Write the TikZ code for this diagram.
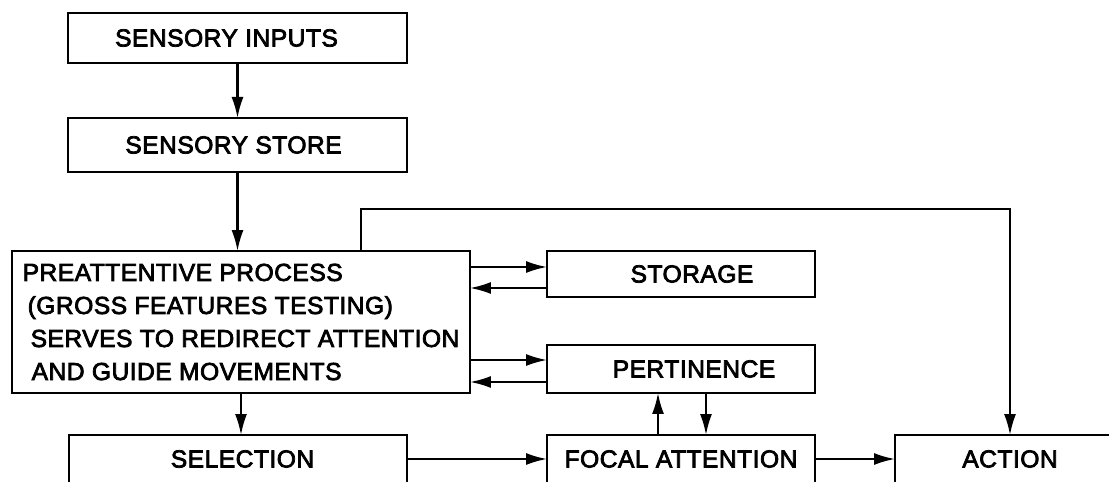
\documentclass[tikz,border=0pt]{standalone}
\usepackage{fontspec}
\setmainfont{Liberation Sans}[LetterSpace=2,FakeBold=3]
\usetikzlibrary{arrows.meta,positioning}
\tikzset{
block/.style={draw,line width=1.4pt,inner sep=0pt,outer sep=0pt,align=center,minimum height=.96cm,minimum width=5.36cm,font=\fontsize{14}{18.8}\selectfont},
arrow/.style={-{Latex[length=4.2mm,width=2.4mm]},line width=1.2pt}
}
\begin{document}
\begin{tikzpicture}[x=.02cm,y=.02cm]
\useasboundingbox (0,0) rectangle (1109,481);
\clip (0,0) rectangle (1109,481);
\node[block,minimum width=6.78cm,minimum height=1cm] (inputs) at (237.5,443) {SENSORY INPUTS\hspace*{.44cm}};
\node[block,minimum width=6.78cm,minimum height=1.08cm,below=1.1cm of inputs] (store) {SENSORY STORE\hspace*{.16cm}};
\node[block,minimum width=9.16cm,minimum height=2.84cm,align=left] (preatt) at (241,159) {PREATTENTIVE PROCESS\\\hspace*{.1cm}(GROSS FEATURES TESTING)\\\hspace*{.16cm}SERVES TO REDIRECT ATTENTION\\\hspace*{.18cm}AND GUIDE MOVEMENTS};
\node[block,minimum height=.92cm] (storage) at (681,207) {\hspace*{.44cm}STORAGE};
\node[block] (pertinence) at (681,112) {\hspace*{.52cm}PERTINENCE};
\node[block] (focal) at (681,22) {FOCAL ATTENTION};
\node[block,minimum width=6.76cm] (selection) at (238,22) {\hspace*{.18cm}SELECTION};
\node[block,minimum width=4.6cm] (action) at (1010,22) {ACTION};
\coordinate (st1) at ([yshift=.14cm]storage.west);
\coordinate (st2) at ([yshift=-.28cm]storage.west);
\coordinate (pe1) at ([yshift=.18cm]pertinence.west);
\coordinate (pe2) at ([yshift=-.26cm]pertinence.west);
\draw[arrow](inputs)--(store);
\draw[arrow](store.south)--(store.south|-preatt.north);
\draw[arrow](preatt.south)--(preatt.south|-selection.north);
\draw[arrow](st1-|preatt.east)--(st1);
\draw[arrow](st2)--(st2-|preatt.east);
\draw[arrow](pe1-|preatt.east)--(pe1);
\draw[arrow](pe2)--(pe2-|preatt.east);
\draw[arrow]([xshift=-.46cm]focal.north)--([xshift=-.46cm]pertinence.south);
\draw[arrow]([xshift=.5cm]pertinence.south)--([xshift=.5cm]focal.north);
\draw[arrow](selection)--(focal);
\draw[arrow](focal)--(action);
\draw[arrow]([xshift=2.4cm]preatt.north)--++(0,42)-|(action.north);
\end{tikzpicture}
\end{document}
